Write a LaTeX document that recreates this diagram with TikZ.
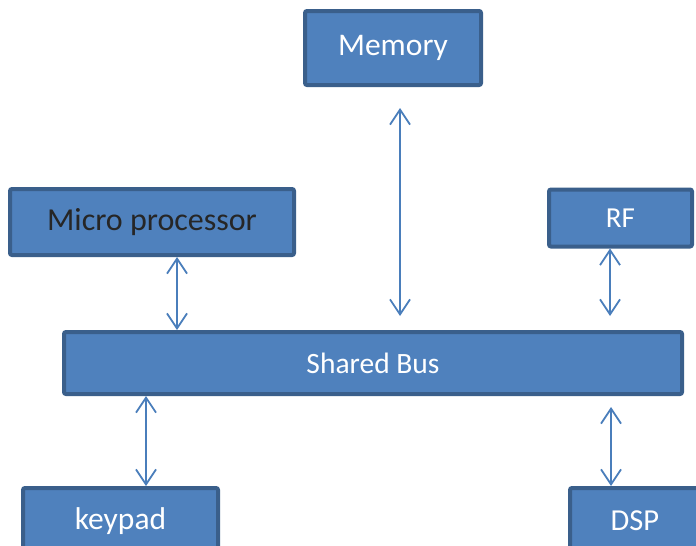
\documentclass[tikz,border=0pt]{standalone}
\usepackage{fontspec}
\setmainfont{Carlito}
\usetikzlibrary{arrows.meta}
\definecolor{boxfill}{HTML}{4F81BD}
\definecolor{boxline}{HTML}{3A5F8B}
\definecolor{linkcol}{HTML}{4A7EBB}
\definecolor{darktext}{HTML}{262626}
\tikzset{
  unit/.style={draw=boxline, fill=boxfill, line width=4pt, rounded corners=2pt,
    text=white, inner sep=0pt, font=\fontsize{30}{36}\selectfont},
  link/.style={draw=linkcol, line width=1.8pt,
    {Straight Barb[length=15pt,width=20pt,line width=1.8pt]}-{Straight Barb[length=15pt,width=20pt,line width=1.8pt]}}
}
\begin{document}
\begin{tikzpicture}[x=1pt,y=-1pt]
\useasboundingbox (0,0) rectangle (696,546);
\clip (0,0) rectangle (696,546);
% functional blocks
\node[unit, minimum width=176pt, minimum height=74pt, font=\fontsize{31.5}{37}\selectfont] (mem) at (393,48) {Memory};
\node[unit, minimum width=284pt, minimum height=66pt, text=darktext, font=\fontsize{32}{38}\selectfont] (cpu) at (152,222) {Micro processor};
\node[unit, minimum width=143pt, minimum height=57pt, font=\fontsize{29}{34}\selectfont] (rf) at (620.5,218) {RF};
\node[unit, minimum width=618pt, minimum height=62pt, font=\fontsize{29.5}{35}\selectfont] (bus) at (373,363) {Shared Bus};
\node[unit, minimum width=195pt, minimum height=66pt, font=\fontsize{31.5}{37}\selectfont] (key) at (120.5,521) {keypad};
\node[unit, minimum width=130pt, minimum height=66pt, font=\fontsize{30.5}{36}\selectfont] (dsp) at (635,521) {DSP};
% bus connections
\coordinate (xm) at (400,0);
\coordinate (xc) at (177,0);
\coordinate (xr) at (610,0);
\coordinate (xk) at (146,0);
\coordinate (xd) at (611,0);
\draw[link, shorten <=21pt, shorten >=14pt] (mem.south -| xm) -- (bus.north -| xm);
\draw[link] (cpu.south -| xc) -- (bus.north -| xc);
\draw[link, shorten >=14pt] (rf.south -| xr) -- (bus.north -| xr);
\draw[link] (bus.south -| xk) -- (key.north -| xk);
\draw[link, shorten <=11pt] (bus.south -| xd) -- (dsp.north -| xd);
\end{tikzpicture}
\end{document}
